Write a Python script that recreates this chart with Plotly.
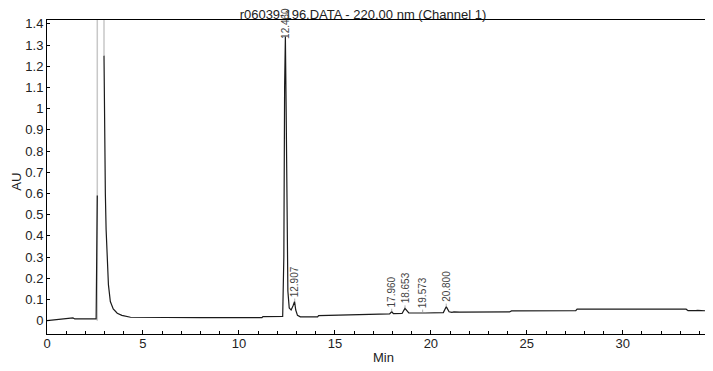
import plotly.graph_objects as go

# Chromatogram trace (minutes, AU). None = break where the signal goes off-scale
time = [0.00, 0.30, 0.60, 0.90, 1.10, 1.35, 1.45, 1.90, 2.30, 2.56, 2.62, None,
        2.97, 3.00, 3.04, 3.08, 3.14, 3.20, 3.30, 3.45, 3.66, 3.90, 4.35, 6.00,
        8.00, 11.20, 11.25, 12.28, 12.34, 12.38, 12.42, 12.46, 12.50, 12.55,
        12.62, 12.72, 12.82, 12.90, 12.96, 13.05, 13.20, 14.10, 14.15, 16.00,
        17.85, 17.96, 18.05, 18.50, 18.65, 18.85, 19.45, 19.57, 19.70, 20.65,
        20.80, 20.95, 21.10, 21.20, 21.45, 21.50, 24.10, 24.20, 27.55, 27.62,
        33.30, 33.40, 33.80, 33.90, 34.50, 34.70]
absorbance = [0.000, 0.003, 0.006, 0.010, 0.012, 0.013, 0.008, 0.008, 0.008, 0.008, 0.59, None,
              1.25, 0.90, 0.60, 0.43, 0.25, 0.17, 0.09, 0.055, 0.035, 0.025, 0.016, 0.014,
              0.014, 0.014, 0.019, 0.020, 0.30, 1.10, 1.34, 1.00, 0.40, 0.14,
              0.06, 0.05, 0.07, 0.09, 0.05, 0.025, 0.018, 0.018, 0.024, 0.027,
              0.032, 0.042, 0.033, 0.034, 0.058, 0.037, 0.036, 0.038, 0.036, 0.038,
              0.066, 0.042, 0.039, 0.041, 0.038, 0.040, 0.041, 0.046, 0.047, 0.054,
              0.054, 0.047, 0.047, 0.048, 0.046, 0.040]

# off-scale solvent front (drawn light grey)
over_time = [2.62, 2.62, 2.97, 2.97]
over_abs = [0.0, 1.6, 1.6, 1.25]

# integrated peaks
peak_time = [12.42, 12.907, 17.96, 18.653, 19.573, 20.80]
peak_abs = [1.34, 0.09, 0.042, 0.058, 0.038, 0.066]
peak_label = ["12.460", "12.907", "17.960", "18.653", "19.573", "20.800"]

fig = go.Figure()
fig.add_trace(go.Scatter(x=over_time, y=over_abs, mode="lines",
                         line=dict(color="#c8c8c8", width=1.5), hoverinfo="skip"))
fig.add_trace(go.Scatter(x=time, y=absorbance, mode="lines",
                         line=dict(color="#1a1a1a", width=1.2)))

for t, h, lab in zip(peak_time, peak_abs, peak_label):
    # the tall peak's label would run off the page top, so tuck it down a bit
    offset = -13 if h > 1 else -20
    fig.add_annotation(x=t, y=h, text=lab, textangle=-90, showarrow=True,
                       arrowhead=0, arrowwidth=0.8, arrowcolor="#999999",
                       ax=0, ay=offset, font=dict(size=10, color="#444444"))

# axis titles as plain annotations so the margins stay fixed
fig.add_annotation(x=0.505, y=-0.076, xref="paper", yref="paper", text="Min",
                   showarrow=False, xanchor="center", yanchor="middle",
                   font=dict(size=13, color="#222222"))
fig.add_annotation(x=-0.047, y=0.484, xref="paper", yref="paper", text="AU",
                   textangle=-90, showarrow=False, xanchor="center", yanchor="middle",
                   font=dict(size=13, color="#222222"))

# page body adds an 8px margin, so the figure is 8px smaller each way
fig.update_layout(
    width=705, height=363,
    margin=dict(l=39, r=0, t=12, b=37),
    plot_bgcolor="white", paper_bgcolor="white",
    showlegend=False,
    font=dict(family="Liberation Sans, Arial, sans-serif", size=13, color="#222222"),
    title=dict(text="r06039-196.DATA - 220.00 nm (Channel 1)", x=0.5035, xref="container",
               xanchor="center", y=1 - 6 / 363, yref="container", yanchor="middle",
               font=dict(size=13, color="#222222")),
    xaxis=dict(range=[0, 34.7], dtick=5, tick0=0, showline=True, linecolor="black",
               linewidth=1, mirror=True, ticks="inside", ticklen=4, tickcolor="black",
               minor=dict(dtick=1, ticks="inside", ticklen=3, tickcolor="black"),
               ticklabelstandoff=-3,
               showgrid=False, zeroline=False, automargin=False),
    yaxis=dict(range=[-0.063, 1.418], dtick=0.1, tick0=0, showline=True, linecolor="black",
               linewidth=1, ticks="inside", ticklen=3, tickcolor="black",
               showgrid=False, zeroline=False, automargin=False),
)

fig.write_html("out.html")
